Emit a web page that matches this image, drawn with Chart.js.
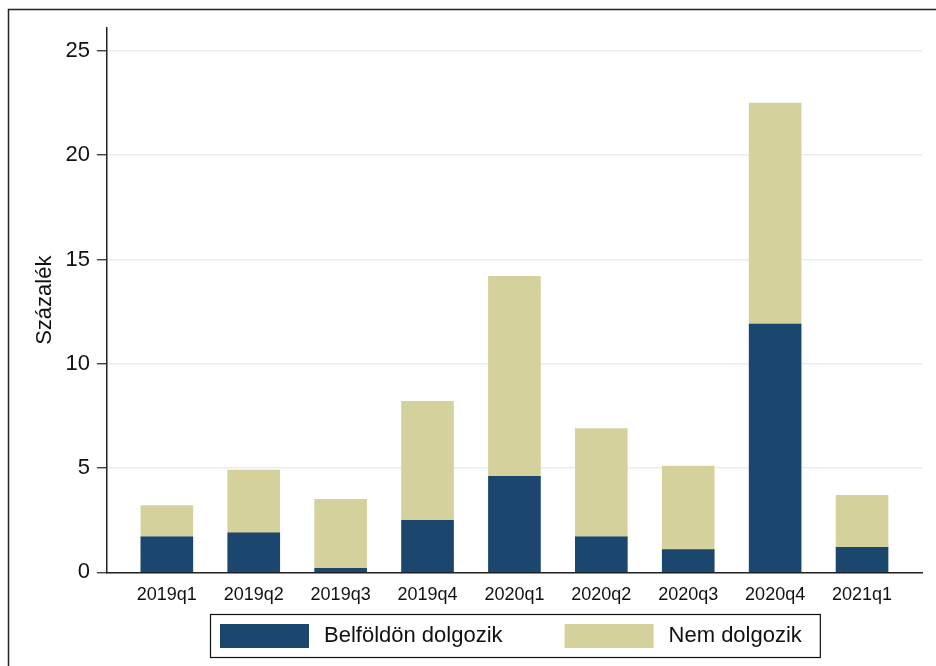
<!DOCTYPE html>
<html>
<head>
<meta charset="utf-8">
<script src="https://cdn.jsdelivr.net/npm/chart.js@4"></script>
<style>
  html, body { margin: 0; padding: 0; background: #fff; }
  #wrap { width: 936px; height: 666px; }
</style>
</head>
<body>
<div id="wrap"><canvas id="c" width="936" height="666"></canvas></div>
<script>
const quarters = ["2019q1","2019q2","2019q3","2019q4","2020q1","2020q2","2020q3","2020q4","2021q1"];
const belfoldon = [1.7, 1.9, 0.2, 2.5, 4.6, 1.7, 1.1, 11.9, 1.2];
const nemDolgozik = [1.5, 3.0, 3.3, 5.7, 9.6, 5.2, 4.0, 10.6, 2.5];
const yTicks = [0, 5, 10, 15, 20, 25];
const seriesNames = ["Belföldön dolgozik", "Nem dolgozik"];

const navy = "#1b476f";
const sand = "#d5d19d";
const font = "'Liberation Sans', Arial, sans-serif";

// outer frame (only top and left edges are visible in the crop)
const framePlugin = {
  id: "frame",
  afterDraw(chart) {
    const ctx = chart.ctx;
    ctx.save();
    ctx.strokeStyle = "#222";
    ctx.lineWidth = 1.5;
    ctx.beginPath();
    ctx.moveTo(8.5, 666);
    ctx.lineTo(8.5, 9.5);
    ctx.lineTo(936, 9.5);
    ctx.stroke();
    ctx.restore();
  }
};

// Stata-like legend with a frame under the plot
const legendPlugin = {
  id: "boxLegend",
  afterDraw(chart) {
    const ctx = chart.ctx;
    const area = chart.chartArea;
    ctx.save();
    ctx.font = "22px " + font;
    const ds = chart.data.datasets;
    const sw = 89, gapText = 15, gapItem = 62, padL = 10, padR = 18;
    const w0 = ctx.measureText(ds[0].label).width;
    const w1 = ctx.measureText(ds[1].label).width;
    const total = padL + sw + gapText + w0 + gapItem + sw + gapText + w1 + padR;
    const cx = (area.left + area.right) / 2;
    const L = Math.round(cx - total / 2);
    const top = 614, h = 43;
    ctx.strokeStyle = "#111";
    ctx.lineWidth = 1.2;
    ctx.strokeRect(L + 0.5, top + 0.5, total, h);
    let x = L + padL;
    ctx.textBaseline = "middle";
    [w0, w1].forEach((w, i) => {
      ctx.fillStyle = ds[i].backgroundColor;
      ctx.fillRect(x, top + 10, sw, 24);
      x += sw + gapText;
      ctx.fillStyle = "#111";
      ctx.fillText(ds[i].label, x, top + 22);
      x += w + gapItem;
    });
    ctx.restore();
  }
};

new Chart(document.getElementById("c"), {
  type: "bar",
  data: {
    datasets: [
      {
        label: seriesNames[0],
        data: belfoldon.map((v, i) => ({ x: i, y: v })),
        backgroundColor: navy,
        barThickness: 52
      },
      {
        label: seriesNames[1],
        data: nemDolgozik.map((v, i) => ({ x: i, y: v })),
        backgroundColor: sand,
        barThickness: 52
      }
    ]
  },
  options: {
    responsive: false,
    animation: false,
    layout: { padding: { left: 24, right: 14, top: 28, bottom: 56 } },
    plugins: {
      legend: { display: false },
      tooltip: { enabled: false }
    },
    scales: {
      x: {
        type: "linear",
        stacked: true,
        offset: false,
        min: -0.69,
        max: 8.69,
        afterBuildTicks: (s) => { s.ticks = quarters.map((q, i) => ({ value: i })); },
        grid: { display: false },
        border: { display: true, color: "#222", width: 1.5 },
        ticks: {
          padding: 4,
          color: "#111",
          font: { family: font, size: 18 },
          callback: (v) => quarters[v] ?? ""
        }
      },
      y: {
        stacked: true,
        min: 0,
        max: 26.1,
        afterBuildTicks: (s) => { s.ticks = yTicks.map(v => ({ value: v })); },
        grid: {
          color: "#e6eef1",
          lineWidth: 1.5,
          tickColor: "#222",
          tickLength: 10,
          tickWidth: 1.2
        },
        border: { display: true, color: "#222", width: 1.5 },
        ticks: {
          padding: 7,
          color: "#111",
          font: { family: font, size: 22 }
        },
        title: {
          display: true,
          text: "Százalék",
          color: "#111",
          font: { family: font, size: 22 },
          padding: { top: 8, bottom: 0 }
        }
      }
    }
  },
  plugins: [framePlugin, legendPlugin]
});
</script>
</body>
</html>
